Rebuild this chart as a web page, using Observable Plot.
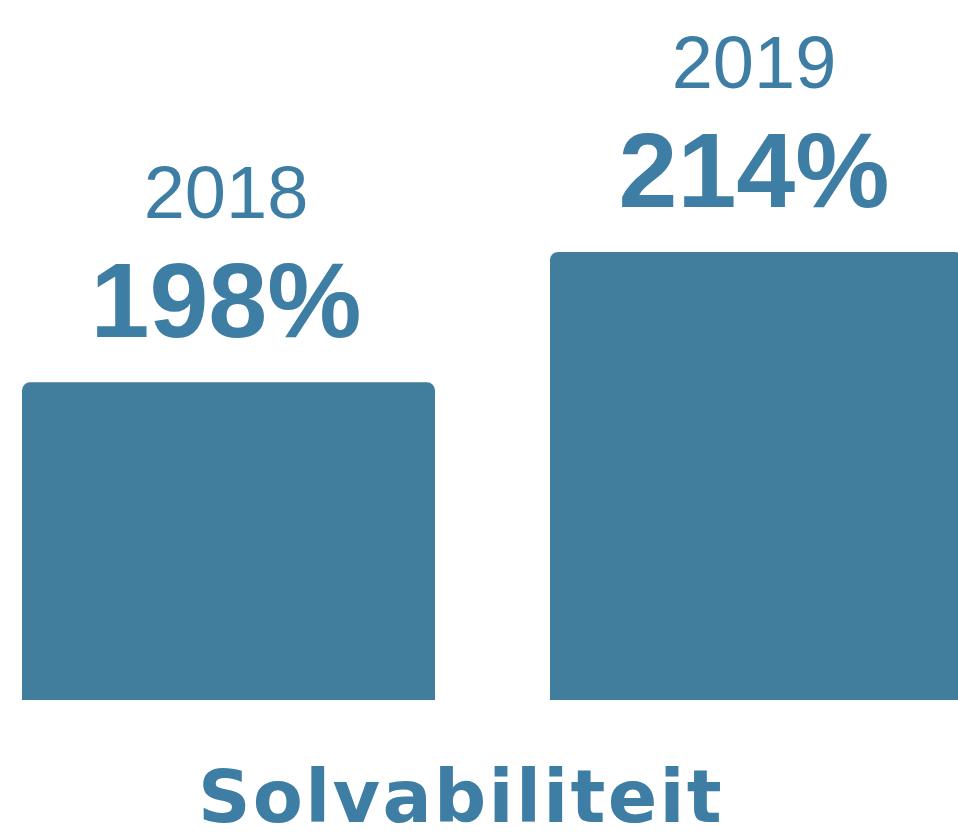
<!DOCTYPE html>
<html>
<head>
<meta charset="utf-8">
<script src="https://cdn.jsdelivr.net/npm/d3@7"></script>
<script src="https://cdn.jsdelivr.net/npm/@observablehq/plot@0.6"></script>
<style>
  html, body { margin: 0; padding: 0; background: #fff; overflow: hidden; }
  #chart { width: 958px; height: 839px; position: relative; }
  #caption {
    position: absolute; left: 0; top: 762px; width: 922px;
    text-align: center;
    font-family: "DejaVu Sans", sans-serif; font-weight: bold;
    font-size: 73px; line-height: 70px; letter-spacing: 2.3px; color: #3e7ea5;
  }
</style>
</head>
<body>
<div id="chart"></div>
<script>
const years = ["2018", "2019"];
const values = [198, 214];
const valueLabels = ["198%", "214%"];
const captionText = "Solvabiliteit";

const rows = years.map((y, i) => ({year: y, value: values[i], label: valueLabels[i]}));

const barColor = "#417e9e";
const textColor = "#3e7ea5";

const plot = Plot.plot({
  width: 958,
  height: 740,
  marginTop: 0, marginRight: 0, marginBottom: 0, marginLeft: 0,
  x: {domain: years, range: [22, 963], paddingInner: 0.218, paddingOuter: 0, axis: null},
  y: {domain: [159, 214], range: [700, 252], clamp: true, axis: null},
  marks: [
    Plot.barY(rows, {x: "year", y: "value", fill: barColor, ry1: 8}),
    Plot.text(rows, {x: "year", y: "value", text: "label", dy: -46, dx: -3, lineAnchor: "bottom",
      fill: textColor, fontFamily: "Liberation Sans, Arial, sans-serif", fontWeight: "bold", fontSize: 106}),
    Plot.text(rows, {x: "year", y: "value", text: "year", dy: -165, dx: -3, lineAnchor: "bottom",
      fill: textColor, fontFamily: "Liberation Sans, Arial, sans-serif", fontWeight: "normal", fontSize: 74})
  ]
});
plot.style.overflow = "hidden";
document.getElementById("chart").appendChild(plot);
const cap = document.createElement("div");
cap.id = "caption";
cap.textContent = captionText;
document.getElementById("chart").appendChild(cap);
</script>
</body>
</html>
